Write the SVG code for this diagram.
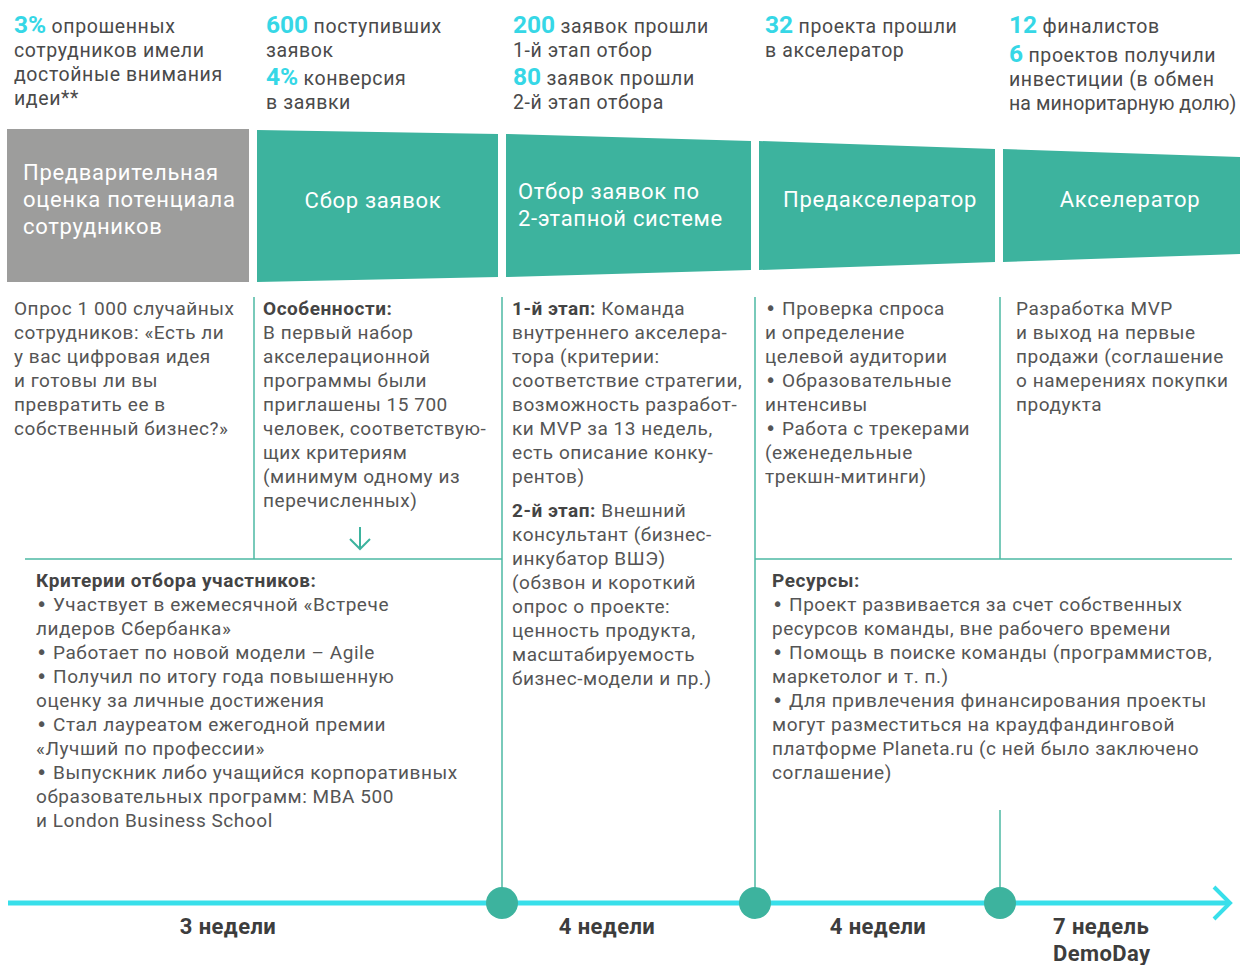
<svg xmlns="http://www.w3.org/2000/svg" width="1240" height="965" viewBox="0 0 1240 965">
<style>
text{font-family:Roboto,"Liberation Sans",sans-serif}
.top{font-size:19.5px;fill:#4a4a4a;letter-spacing:0.6px}
.num{font-weight:bold;fill:#36d7e6;font-size:24.5px;letter-spacing:0}
.hd{font-size:22px;fill:#fff;letter-spacing:0.7px}
.body{font-size:19px;fill:#555;letter-spacing:0.55px}
.b{font-weight:bold;fill:#444}
.bl{font-family:"DejaVu Sans",sans-serif}
.wk{font-size:22px;font-weight:bold;fill:#3d3d3d;letter-spacing:0.4px}
.ln{stroke:#4db8a3;stroke-width:1.5;fill:none}
.teal{fill:#3db39e}
</style>
<rect width="1240" height="965" fill="#fff"/>

<g id="stats">
<text class="top" x="14" y="33"><tspan class="num">3%</tspan> опрошенных</text>
<text class="top" x="14" y="57">сотрудников имели</text>
<text class="top" x="14" y="81">достойные внимания</text>
<text class="top" x="14" y="105">идеи**</text>
<text class="top" x="266" y="33"><tspan class="num">600</tspan> поступивших</text>
<text class="top" x="266" y="57">заявок</text>
<text class="top" x="266" y="85"><tspan class="num">4%</tspan> конверсия</text>
<text class="top" x="266" y="109">в заявки</text>
<text class="top" x="513" y="33"><tspan class="num">200</tspan> заявок прошли</text>
<text class="top" x="513" y="57">1-й этап отбор</text>
<text class="top" x="513" y="85"><tspan class="num">80</tspan> заявок прошли</text>
<text class="top" x="513" y="109">2-й этап отбора</text>
<text class="top" x="765" y="33"><tspan class="num">32</tspan> проекта прошли</text>
<text class="top" x="765" y="57">в акселератор</text>
<text class="top" x="1009" y="33"><tspan class="num">12</tspan> финалистов</text>
<text class="top" x="1009" y="62"><tspan class="num">6</tspan> проектов получили</text>
<text class="top" x="1009" y="86">инвестиции (в обмен</text>
<text class="top" x="1009" y="110" textLength="228" lengthAdjust="spacing">на миноритарную долю)</text>
</g>

<g id="stage1">
<rect x="7" y="129" width="242" height="153" fill="#9d9d9c"/>
<text class="hd" x="23" y="180">Предварительная</text>
<text class="hd" x="23" y="207">оценка потенциала</text>
<text class="hd" x="23" y="234">сотрудников</text>
</g>
<g id="stage2">
<polygon class="teal" points="257,130 498,134 498,277 257,282"/>
<text class="hd" x="373" y="208" text-anchor="middle">Сбор заявок</text>
</g>
<g id="stage3">
<polygon class="teal" points="506,134 751,141 751,270 506,277"/>
<text class="hd" x="518" y="199">Отбор заявок по</text>
<text class="hd" x="518" y="226">2-этапной системе</text>
</g>
<g id="stage4">
<polygon class="teal" points="759,141 995,149 995,262 759,270"/>
<text class="hd" x="880" y="207" text-anchor="middle">Предакселератор</text>
</g>
<g id="stage5">
<polygon class="teal" points="1003,149 1240,157 1240,254 1003,262"/>
<text class="hd" x="1130" y="207" text-anchor="middle">Акселератор</text>
</g>

<g id="connectors">
<line class="ln" x1="254" y1="297" x2="254" y2="559"/>
<line class="ln" x1="502" y1="297" x2="502" y2="903"/>
<line class="ln" x1="755" y1="297" x2="755" y2="903"/>
<line class="ln" x1="1000" y1="297" x2="1000" y2="559"/>
<line class="ln" x1="1000" y1="810" x2="1000" y2="903"/>
<line class="ln" x1="25" y1="559" x2="502" y2="559"/>
<line class="ln" x1="755" y1="559" x2="1232" y2="559"/>
<line x1="360" y1="527" x2="360" y2="549" stroke="#3db39e" stroke-width="2"/>
<polyline points="350,539 360,549 370,539" fill="none" stroke="#3db39e" stroke-width="2"/>
<line x1="8" y1="903" x2="1228" y2="903" stroke="#38dfea" stroke-width="5"/>
<polyline points="1214,887 1230,903 1214,919" fill="none" stroke="#38dfea" stroke-width="4"/>
</g>

<g id="col1">
<text class="body" x="14" y="315">Опрос 1 000 случайных</text>
<text class="body" x="14" y="339">сотрудников: «Есть ли</text>
<text class="body" x="14" y="363">у вас цифровая идея</text>
<text class="body" x="14" y="387">и готовы ли вы</text>
<text class="body" x="14" y="411">превратить ее в</text>
<text class="body" x="14" y="435">собственный бизнес?»</text>
</g>
<g id="col2">
<text class="body b" x="263" y="315">Особенности:</text>
<text class="body" x="263" y="339">В первый набор</text>
<text class="body" x="263" y="363">акселерационной</text>
<text class="body" x="263" y="387">программы были</text>
<text class="body" x="263" y="411">приглашены 15 700</text>
<text class="body" x="263" y="435">человек, соответствую-</text>
<text class="body" x="263" y="459">щих критериям</text>
<text class="body" x="263" y="483">(минимум одному из</text>
<text class="body" x="263" y="507">перечисленных)</text>
</g>
<g id="col3">
<text class="body" x="512" y="315"><tspan class="b">1-й этап:</tspan> Команда</text>
<text class="body" x="512" y="339">внутреннего акселера-</text>
<text class="body" x="512" y="363">тора (критерии:</text>
<text class="body" x="512" y="387">соответствие стратегии,</text>
<text class="body" x="512" y="411">возможность разработ-</text>
<text class="body" x="512" y="435">ки MVP за 13 недель,</text>
<text class="body" x="512" y="459">есть описание конку-</text>
<text class="body" x="512" y="483">рентов)</text>
<text class="body" x="512" y="517"><tspan class="b">2-й этап:</tspan> Внешний</text>
<text class="body" x="512" y="541">консультант (бизнес-</text>
<text class="body" x="512" y="565">инкубатор ВШЭ)</text>
<text class="body" x="512" y="589">(обзвон и короткий</text>
<text class="body" x="512" y="613">опрос о проекте:</text>
<text class="body" x="512" y="637">ценность продукта,</text>
<text class="body" x="512" y="661">масштабируемость</text>
<text class="body" x="512" y="685">бизнес-модели и пр.)</text>
</g>
<g id="col4">
<text class="body" x="765" y="315"><tspan class="bl">•</tspan> Проверка спроса</text>
<text class="body" x="765" y="339">и определение</text>
<text class="body" x="765" y="363">целевой аудитории</text>
<text class="body" x="765" y="387"><tspan class="bl">•</tspan> Образовательные</text>
<text class="body" x="765" y="411">интенсивы</text>
<text class="body" x="765" y="435"><tspan class="bl">•</tspan> Работа с трекерами</text>
<text class="body" x="765" y="459">(еженедельные</text>
<text class="body" x="765" y="483">трекшн-митинги)</text>
</g>
<g id="col5">
<text class="body" x="1016" y="315">Разработка MVP</text>
<text class="body" x="1016" y="339">и выход на первые</text>
<text class="body" x="1016" y="363">продажи (соглашение</text>
<text class="body" x="1016" y="387">о намерениях покупки</text>
<text class="body" x="1016" y="411">продукта</text>
</g>
<g id="criteria">
<text class="body b" x="36" y="587">Критерии отбора участников:</text>
<text class="body" x="36" y="611"><tspan class="bl">•</tspan> Участвует в ежемесячной «Встрече</text>
<text class="body" x="36" y="635">лидеров Сбербанка»</text>
<text class="body" x="36" y="659"><tspan class="bl">•</tspan> Работает по новой модели – Agile</text>
<text class="body" x="36" y="683"><tspan class="bl">•</tspan> Получил по итогу года повышенную</text>
<text class="body" x="36" y="707">оценку за личные достижения</text>
<text class="body" x="36" y="731"><tspan class="bl">•</tspan> Стал лауреатом ежегодной премии</text>
<text class="body" x="36" y="755">«Лучший по профессии»</text>
<text class="body" x="36" y="779"><tspan class="bl">•</tspan> Выпускник либо учащийся корпоративных</text>
<text class="body" x="36" y="803">образовательных программ: MBA 500</text>
<text class="body" x="36" y="827">и London Business School</text>
</g>
<g id="resources">
<text class="body b" x="772" y="587">Ресурсы:</text>
<text class="body" x="772" y="611"><tspan class="bl">•</tspan> Проект развивается за счет собственных</text>
<text class="body" x="772" y="635">ресурсов команды, вне рабочего времени</text>
<text class="body" x="772" y="659"><tspan class="bl">•</tspan> Помощь в поиске команды (программистов,</text>
<text class="body" x="772" y="683">маркетолог и т. п.)</text>
<text class="body" x="772" y="707"><tspan class="bl">•</tspan> Для привлечения финансирования проекты</text>
<text class="body" x="772" y="731">могут разместиться на краудфандинговой</text>
<text class="body" x="772" y="755">платформе Planeta.ru (с ней было заключено</text>
<text class="body" x="772" y="779">соглашение)</text>
</g>

<g id="milestones">
<circle class="teal" cx="502" cy="903" r="16"/>
<circle class="teal" cx="755" cy="903" r="16"/>
<circle class="teal" cx="1000" cy="903" r="16"/>
</g>
<g id="weeks">
<text class="wk" x="228" y="934" text-anchor="middle">3 недели</text>
<text class="wk" x="607" y="934" text-anchor="middle">4 недели</text>
<text class="wk" x="878" y="934" text-anchor="middle">4 недели</text>
<text class="wk" x="1053" y="934">7 недель</text>
<text class="wk" x="1053" y="961">DemoDay</text>
</g>
</svg>
